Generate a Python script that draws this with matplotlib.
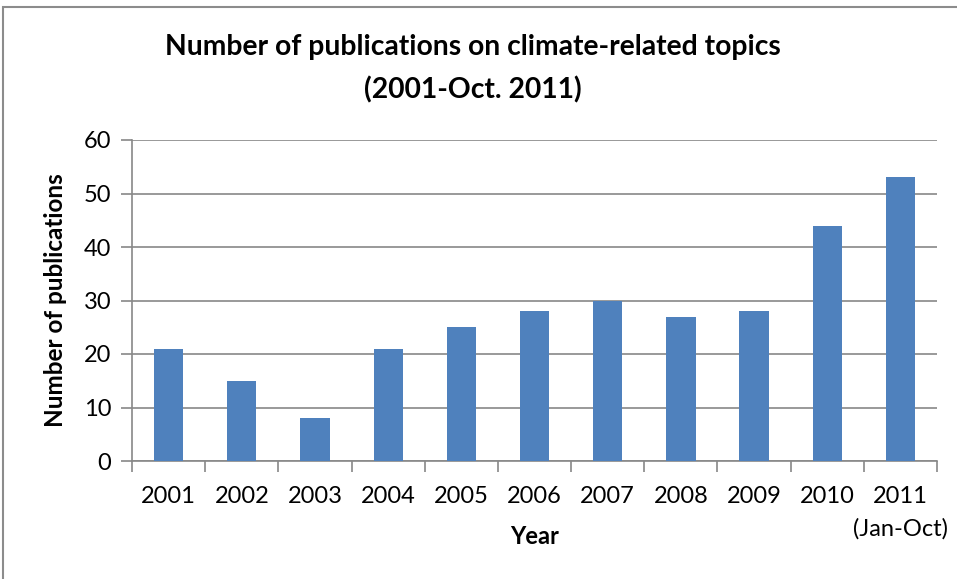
import matplotlib
matplotlib.use("Agg")
import matplotlib.pyplot as plt
from matplotlib.patches import Rectangle

years = ["2001", "2002", "2003", "2004", "2005", "2006", "2007", "2008", "2009", "2010", "2011\n(Jan-Oct)"]
counts = [21, 15, 8, 21, 25, 28, 30, 27, 28, 44, 53]
yticks = [0, 10, 20, 30, 40, 50, 60]

plt.rcParams['font.family'] = ['Lato', 'DejaVu Sans']

W, H = 957, 579
fig = plt.figure(figsize=(W/100, H/100), dpi=100)
ax = fig.add_axes([132/W, 1-461/H, (937-132)/W, (461-140)/H])

fig.patches.append(Rectangle((3/W, -0.1), 1.2, 1-7/H+0.1, transform=fig.transFigure,
                             fill=False, edgecolor='#8c8c8c', linewidth=1.5))

x = list(range(len(years)))
ax.bar(x, counts, width=0.4, color='#4F81BD', zorder=3)
ax.set_xlim(-0.5, len(years)-0.5)
ax.set_ylim(0, 60)
ax.set_yticks(yticks)
ax.yaxis.grid(True, color='#888888', linewidth=1.2, zorder=0)
ax.tick_params(axis='y', length=8, width=1.2, color='#888888', labelsize=17, pad=7)

ax.set_xticks([i - 0.5 for i in range(len(years)+1)], minor=False)
ax.set_xticklabels([])
ax.set_xticks(x, minor=True)
ax.set_xticklabels(years, minor=True, fontsize=17, linespacing=1.65)
ax.tick_params(axis='x', which='major', length=8, width=1.2, color='#888888')
ax.tick_params(axis='x', which='minor', length=0, pad=18)

for s in ['top', 'right']:
    ax.spines[s].set_visible(False)
for s in ['left', 'bottom']:
    ax.spines[s].set_color('#888888')
    ax.spines[s].set_linewidth(1.2)

ax.set_xlabel('Year', fontsize=17, fontweight='bold', va='center')
ax.xaxis.set_label_coords((535-132)/805, (461-536)/321)
ax.set_ylabel('Number of publications', fontsize=17.5, fontweight='bold', labelpad=12)
fig.text(473/W, 1-69/H, 'Number of publications on climate-related topics\n(2001-Oct. 2011)',
         ha='center', va='center', fontsize=20.3, fontweight='bold', linespacing=1.75)

fig.savefig('out.png', dpi=100)
